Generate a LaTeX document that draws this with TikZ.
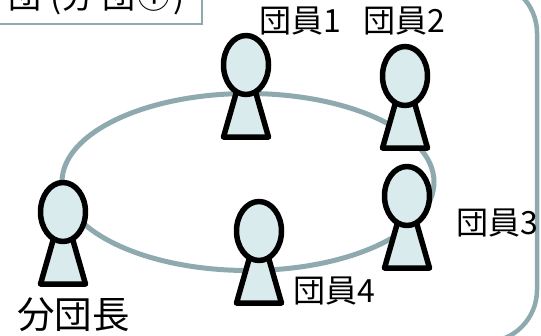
\documentclass[tikz,border=0pt]{standalone}
\usepackage{fontspec}
\setmainfont{Noto Sans CJK JP}
\definecolor{ringc}{HTML}{8FAAAE}
\definecolor{bodyc}{HTML}{DAEBEE}
\tikzset{
  x=1pt,y=-1pt,
  ring/.style={draw=ringc,line width=5pt},
  frameline/.style={draw=ringc,line width=4.5pt},
  boxline/.style={draw=ringc,line width=1.5pt,fill=white},
  part/.style={draw=black,fill=bodyc,line width=5.5pt,line join=round},
  lbl/.style={inner sep=0pt,anchor=center,text=black},
  small/.style={lbl,font=\fontsize{32}{32}\selectfont},
  person/.pic={
    \draw[part] (-9,25) -- (9,25) -- (22.5,72) -- (-22.5,72) -- cycle;
    \draw[part] (0,0) ellipse [x radius=22.5,y radius=29.5];
  }
}
\begin{document}
\begin{tikzpicture}
\useasboundingbox (0,0) rectangle (541,335);
\clip (0,0) rectangle (541,335);
\draw[frameline,rounded corners=52pt] (-200,-19) rectangle (537,342);
\draw[ring] (248,182) ellipse [x radius=186,y radius=88.5];
\draw[boxline] (-10,-20) rectangle (202,24);
\node[lbl,font=\fontsize{33}{33}\selectfont,anchor=base west] (title) at (8,8) {団\hspace{9pt}(\hspace{0pt}分\hspace{8pt}団\hspace{2pt}①\hspace{3pt})};
\pic at (246,65) {person};
\pic at (405,76) {person};
\pic at (407,196) {person};
\pic at (259,231) {person};
\pic at (63,212) {person};
\node[small] (m1) at (300,21) {団員1};
\node[small] (m2) at (404.5,21) {団員2};
\node[small] (m3) at (497,223) {団員3};
\node[small] (m4) at (334,291) {団員4};
\node[lbl,font=\fontsize{37.5}{38}\selectfont] (lead) at (73.5,315) {分団長};
\end{tikzpicture}
\end{document}
